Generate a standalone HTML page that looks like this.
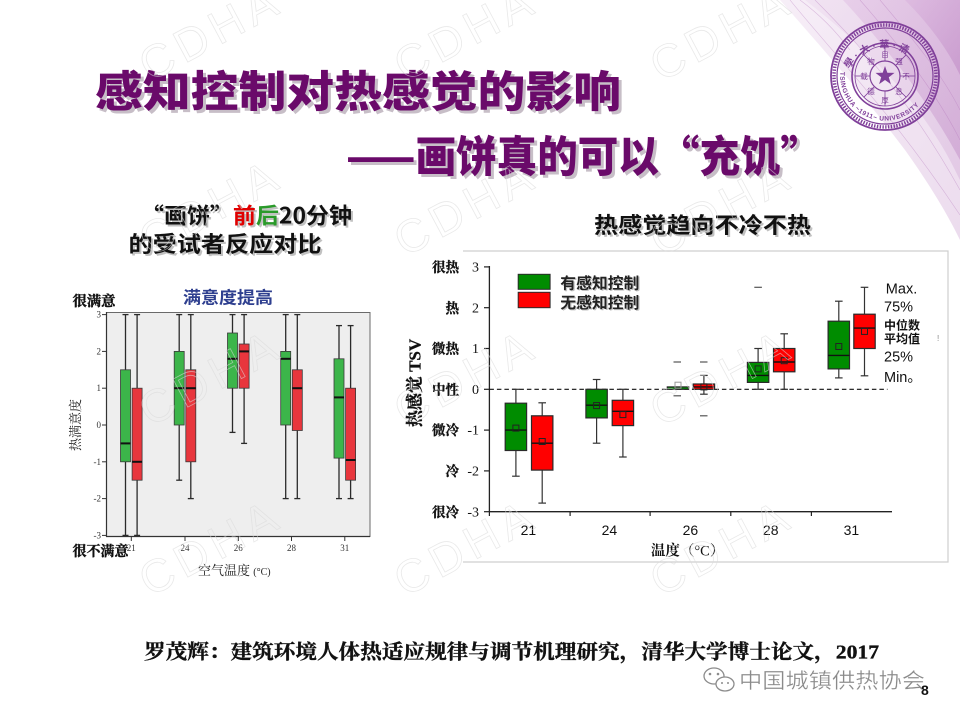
<!DOCTYPE html>
<html><head><meta charset="utf-8"><style>
html,body{margin:0;padding:0;background:#fff;width:960px;height:720px;overflow:hidden;}
svg{display:block;}
.cjk{font-family:"Liberation Sans","Noto Sans CJK SC",sans-serif;}
.cjq{font-family:"Noto Sans CJK SC","Liberation Sans",sans-serif;}
.ser{font-family:"Liberation Serif","Noto Serif CJK SC",serif;}
</style></head><body>
<svg width="960" height="720" viewBox="0 0 960 720" xmlns="http://www.w3.org/2000/svg">
<defs>
<linearGradient id="rib1" x1="0" y1="0" x2="1" y2="1">
<stop offset="0" stop-color="#e3c6e5"/><stop offset="1" stop-color="#c08ac6"/></linearGradient>
<linearGradient id="rib2" x1="0" y1="0" x2="1" y2="1">
<stop offset="0" stop-color="#d3a2d7"/><stop offset="1" stop-color="#a860b0"/></linearGradient>
</defs>
<rect width="960" height="720" fill="#fff"/>

<!-- ribbon decoration -->
<path d="M780,0 C815,40 860,90 905,150 C930,185 948,215 960,240 L960,0 Z" fill="url(#rib1)" opacity="0.3"/>
<path d="M805,0 C850,35 900,80 935,135 C948,155 955,170 960,180 L960,0 Z" fill="url(#rib1)" opacity="0.25"/>
<path d="M843,0 C880,40 925,95 960,160 L960,0 Z" fill="url(#rib2)" opacity="0.28"/>
<path d="M905,0 C930,25 948,50 960,75 L960,0 Z" fill="url(#rib2)" opacity="0.3"/>
<g fill="none" stroke="#b070b8" stroke-width="0.6" opacity="0.4">
<path d="M790,0 C830,50 890,110 960,215"/>
<path d="M815,0 C860,45 910,100 960,190"/>
<path d="M860,0 C895,40 935,90 960,140"/>
<path d="M880,0 C905,30 940,70 960,110"/>
<path d="M800,0 C820,15 835,30 850,50"/>
</g>

<!-- Tsinghua logo -->
<g transform="translate(885,76)" stroke="#80409a" fill="none">
<circle r="54" stroke-width="1.8"/>
<circle r="51" stroke-width="3.5" stroke-dasharray="1.4 1.4"/>
<circle r="48" stroke-width="1.2"/>
<circle r="33" stroke-width="1.6"/>
<circle r="30" stroke-width="0.8"/>
<circle r="15" stroke-width="1.2"/>
<g stroke-width="0.8">
<line x1="0" y1="-15" x2="0" y2="-30"/><line x1="0" y1="15" x2="0" y2="30"/>
<line x1="-15" y1="0" x2="-30" y2="0"/><line x1="15" y1="0" x2="30" y2="0"/>
<line x1="10.6" y1="-10.6" x2="21.2" y2="-21.2"/><line x1="-10.6" y1="10.6" x2="-21.2" y2="21.2"/>
<line x1="-10.6" y1="-10.6" x2="-21.2" y2="-21.2"/><line x1="10.6" y1="10.6" x2="21.2" y2="21.2"/>
</g>
<polygon points="0,-10 2.35,-3.24 9.51,-3.09 3.8,1.24 5.88,8.09 0,4 -5.88,8.09 -3.8,1.24 -9.51,-3.09 -2.35,-3.24" fill="#80409a" stroke="none"/>
<path id="topArc" d="M-40,6 A40.5 40.5 0 0 1 40,6" stroke="none"/>
<path id="botArc" d="M-38,-8 A38.8 38.8 0 1 0 38,-8" stroke="none"/>
<g stroke="none" fill="#80409a">
<text class="cjk" font-size="10" font-weight="bold"><textPath href="#topArc" startOffset="12%">學 · 大 · 華 · 清</textPath></text>
<text font-family="Liberation Sans" font-size="6.5" font-weight="bold" dy="6"><textPath href="#botArc" startOffset="3%">TSINGHUA ~1911~ UNIVERSITY</textPath></text>
<g class="cjk" font-size="7.5" text-anchor="middle">
<text x="0" y="-19">自</text><text x="14" y="-12">强</text><text x="21" y="3">不</text><text x="14" y="18">息</text>
<text x="0" y="27">厚</text><text x="-14" y="18">德</text><text x="-21" y="3">载</text><text x="-14" y="-12">物</text>
</g></g>
</g>

<!-- Title -->
<g class="cjq" font-weight="900" font-size="43">
<text x="98" y="110" fill="#9a8a9a" opacity="0.55" textLength="526" lengthAdjust="spacingAndGlyphs">感知控制对热感觉的影响</text>
<text x="95" y="107" fill="#6a0a6a" textLength="526" lengthAdjust="spacingAndGlyphs">感知控制对热感觉的影响</text>
<text x="349" y="175" fill="#9a8a9a" opacity="0.55" textLength="475" lengthAdjust="spacingAndGlyphs">——画饼真的可以“充饥”</text>
<text x="346" y="172" fill="#6a0a6a" textLength="475" lengthAdjust="spacingAndGlyphs">——画饼真的可以“充饥”</text>
</g>

<!-- sub headings -->
<g class="cjq" font-weight="bold" font-size="22">
<text x="143" y="225.5" fill="#999" opacity="0.6" textLength="211" lengthAdjust="spacingAndGlyphs">“画饼”前后20分钟</text>
<text x="141" y="223.5" fill="#111" textLength="211" lengthAdjust="spacingAndGlyphs">“画饼”<tspan fill="#e00000">前</tspan><tspan fill="#2a9a2a">后</tspan>20分钟</text>
<text x="130.5" y="254" fill="#999" opacity="0.6" textLength="193" lengthAdjust="spacingAndGlyphs">的受试者反应对比</text>
<text x="128.5" y="252" fill="#111" textLength="193" lengthAdjust="spacingAndGlyphs">的受试者反应对比</text>
<text x="596" y="235" fill="#999" opacity="0.6" textLength="217" lengthAdjust="spacingAndGlyphs">热感觉趋向不冷不热</text>
<text x="594" y="233" fill="#111" textLength="217" lengthAdjust="spacingAndGlyphs">热感觉趋向不冷不热</text>
</g>

<!-- LEFT CHART -->
<g>
<rect x="106.5" y="312.5" width="263.5" height="224" fill="#eeeeee" stroke="#6a6a6a" stroke-width="1"/>
<line x1="106.5" y1="312" x2="106.5" y2="537" stroke="#333" stroke-width="1.2"/>
<line x1="106" y1="536.5" x2="370" y2="536.5" stroke="#333" stroke-width="1.2"/>
<g stroke="#333" stroke-width="1">
<line x1="102" y1="314.6" x2="106.5" y2="314.6"/><line x1="102" y1="351.4" x2="106.5" y2="351.4"/>
<line x1="102" y1="388.2" x2="106.5" y2="388.2"/><line x1="102" y1="425" x2="106.5" y2="425"/>
<line x1="102" y1="461.8" x2="106.5" y2="461.8"/><line x1="102" y1="498.6" x2="106.5" y2="498.6"/>
<line x1="102" y1="535.4" x2="106.5" y2="535.4"/>
<line x1="131.3" y1="536.5" x2="131.3" y2="541"/><line x1="185" y1="536.5" x2="185" y2="541"/>
<line x1="238.3" y1="536.5" x2="238.3" y2="541"/><line x1="291.5" y1="536.5" x2="291.5" y2="541"/>
<line x1="344.8" y1="536.5" x2="344.8" y2="541"/>
</g>
<g font-family="Liberation Serif" font-size="9" fill="#333" text-anchor="end">
<text x="101" y="317.6">3</text><text x="101" y="354.4">2</text><text x="101" y="391.2">1</text>
<text x="101" y="428">0</text><text x="101" y="464.8">-1</text><text x="101" y="501.6">-2</text><text x="101" y="538.4">-3</text>
</g>
<g font-family="Liberation Serif" font-size="9" fill="#333" text-anchor="middle">
<text x="131.3" y="551">21</text><text x="185" y="551">24</text><text x="238.3" y="551">26</text>
<text x="291.5" y="551">28</text><text x="344.8" y="551">31</text>
</g>
<g stroke="#2a2a2a" stroke-width="1.3">
<line x1="125.5" y1="314.6" x2="125.5" y2="535.4"/><line x1="122.5" y1="314.6" x2="128.5" y2="314.6"/><line x1="122.5" y1="535.4" x2="128.5" y2="535.4"/>
<line x1="137.1" y1="314.6" x2="137.1" y2="535.4"/><line x1="134.1" y1="314.6" x2="140.1" y2="314.6"/><line x1="134.1" y1="535.4" x2="140.1" y2="535.4"/>
<line x1="179.2" y1="314.6" x2="179.2" y2="480.2"/><line x1="176.2" y1="314.6" x2="182.2" y2="314.6"/><line x1="176.2" y1="480.2" x2="182.2" y2="480.2"/>
<line x1="190.8" y1="314.6" x2="190.8" y2="498.6"/><line x1="187.8" y1="314.6" x2="193.8" y2="314.6"/><line x1="187.8" y1="498.6" x2="193.8" y2="498.6"/>
<line x1="232.5" y1="314.6" x2="232.5" y2="432.4"/><line x1="229.5" y1="314.6" x2="235.5" y2="314.6"/><line x1="229.5" y1="432.4" x2="235.5" y2="432.4"/>
<line x1="244.1" y1="314.6" x2="244.1" y2="443.4"/><line x1="241.1" y1="314.6" x2="247.1" y2="314.6"/><line x1="241.1" y1="443.4" x2="247.1" y2="443.4"/>
<line x1="285.7" y1="314.6" x2="285.7" y2="498.6"/><line x1="282.7" y1="314.6" x2="288.7" y2="314.6"/><line x1="282.7" y1="498.6" x2="288.7" y2="498.6"/>
<line x1="297.3" y1="314.6" x2="297.3" y2="498.6"/><line x1="294.3" y1="314.6" x2="300.3" y2="314.6"/><line x1="294.3" y1="498.6" x2="300.3" y2="498.6"/>
<line x1="339" y1="325.6" x2="339" y2="498.6"/><line x1="336" y1="325.6" x2="342" y2="325.6"/><line x1="336" y1="498.6" x2="342" y2="498.6"/>
<line x1="350.6" y1="325.6" x2="350.6" y2="498.6"/><line x1="347.6" y1="325.6" x2="353.6" y2="325.6"/><line x1="347.6" y1="498.6" x2="353.6" y2="498.6"/>
</g>
<g stroke="#3a3a3a" stroke-width="0.8">
<rect x="120.5" y="369.8" width="10" height="92" fill="#3cb54a"/>
<rect x="132.1" y="388.2" width="10" height="92" fill="#e8363d"/>
<rect x="174.2" y="351.4" width="10" height="73.6" fill="#3cb54a"/>
<rect x="185.8" y="369.8" width="10" height="92" fill="#e8363d"/>
<rect x="227.5" y="333" width="10" height="55.2" fill="#3cb54a"/>
<rect x="239.1" y="344" width="10" height="44.2" fill="#e8363d"/>
<rect x="280.7" y="351.4" width="10" height="73.6" fill="#3cb54a"/>
<rect x="292.3" y="369.8" width="10" height="60.7" fill="#e8363d"/>
<rect x="334" y="358.8" width="10" height="99.3" fill="#3cb54a"/>
<rect x="345.6" y="388.2" width="10" height="92" fill="#e8363d"/>
</g>
<g stroke="#111" stroke-width="2">
<line x1="120.5" y1="443.4" x2="130.5" y2="443.4"/>
<line x1="132.1" y1="461.8" x2="142.1" y2="461.8"/>
<line x1="174.2" y1="388.2" x2="184.2" y2="388.2"/>
<line x1="185.8" y1="388.2" x2="195.8" y2="388.2"/>
<line x1="227.5" y1="358.8" x2="237.5" y2="358.8"/>
<line x1="239.1" y1="351.4" x2="249.1" y2="351.4"/>
<line x1="280.7" y1="358.8" x2="290.7" y2="358.8"/>
<line x1="292.3" y1="388.2" x2="302.3" y2="388.2"/>
<line x1="334" y1="397.4" x2="344" y2="397.4"/>
<line x1="345.6" y1="460" x2="355.6" y2="460"/>
</g>
<text x="228" y="303.5" class="cjk" font-size="17" font-weight="bold" fill="#2e3f8f" text-anchor="middle" textLength="90" lengthAdjust="spacingAndGlyphs">满意度提高</text>
<g class="ser" font-weight="bold" font-size="14" fill="#111" stroke="#111" stroke-width="0.4">
<text x="72.5" y="306" textLength="43" lengthAdjust="spacingAndGlyphs">很满意</text>
<text x="72.5" y="556" textLength="56" lengthAdjust="spacingAndGlyphs">很不满意</text>
</g>
<text transform="translate(80,425) rotate(-90)" class="ser" font-size="13" fill="#222" text-anchor="middle">热满意度</text>
<text x="198" y="575" class="ser" font-size="13" fill="#222">空气温度 <tspan font-size="10">(°C)</tspan></text>
</g>

<!-- RIGHT CHART -->
<g>
<g stroke="#cfcfcf" stroke-width="1.2" fill="none">
<polyline points="463,251 948,251 948,562 463,562"/>
</g>
<line x1="489.4" y1="266" x2="489.4" y2="512" stroke="#222" stroke-width="1.3"/>
<line x1="489" y1="511.7" x2="892" y2="511.7" stroke="#222" stroke-width="1.3"/>
<g stroke="#222" stroke-width="1.2">
<line x1="484" y1="266.9" x2="489.4" y2="266.9"/><line x1="484" y1="307.7" x2="489.4" y2="307.7"/>
<line x1="484" y1="348.5" x2="489.4" y2="348.5"/><line x1="484" y1="389.3" x2="489.4" y2="389.3"/>
<line x1="484" y1="430.1" x2="489.4" y2="430.1"/><line x1="484" y1="470.9" x2="489.4" y2="470.9"/>
<line x1="484" y1="511.7" x2="489.4" y2="511.7"/>
<line x1="489.4" y1="511.7" x2="489.4" y2="516"/><line x1="570.1" y1="511.7" x2="570.1" y2="516"/>
<line x1="650.1" y1="511.7" x2="650.1" y2="516"/><line x1="730.8" y1="511.7" x2="730.8" y2="516"/>
<line x1="811.4" y1="511.7" x2="811.4" y2="516"/>
</g>
<g font-family="Liberation Serif" font-size="14" fill="#111" text-anchor="end">
<text x="479" y="271.5">3</text><text x="479" y="312.3">2</text><text x="479" y="353.1">1</text>
<text x="479" y="393.9">0</text><text x="479" y="434.7">-1</text><text x="479" y="475.5">-2</text><text x="479" y="516.3">-3</text>
</g>
<g class="ser" font-size="13.5" font-weight="bold" fill="#111" stroke="#111" stroke-width="0.35" text-anchor="end">
<text x="459" y="272">很热</text><text x="459" y="312.8">热</text><text x="459" y="353.6">微热</text>
<text x="459" y="394.4">中性</text><text x="459" y="435.2">微冷</text><text x="459" y="476">冷</text><text x="459" y="516.8">很冷</text>
</g>
<g font-family="Liberation Sans" font-size="14" fill="#111" text-anchor="middle">
<text x="528.4" y="535">21</text><text x="609.4" y="535">24</text><text x="690.4" y="535">26</text>
<text x="770.7" y="535">28</text><text x="851.4" y="535">31</text>
</g>
<text x="687.6" y="555.5" text-anchor="middle" class="ser" font-size="14.5" font-weight="bold" fill="#111">温度<tspan font-weight="normal">（°C）</tspan></text>
<text transform="translate(420.5,383) rotate(-90)" text-anchor="middle" class="ser" font-size="17" font-weight="bold" fill="#111" stroke="#111" stroke-width="0.3">热感觉 TSV</text>

<line x1="489.4" y1="389.3" x2="887.5" y2="389.3" stroke="#111" stroke-width="1.2" stroke-dasharray="4.5 3"/>

<g stroke="#333" stroke-width="1.2">
<line x1="515.9" y1="389.3" x2="515.9" y2="476.2"/><line x1="512.1" y1="389.3" x2="519.7" y2="389.3"/><line x1="512.1" y1="476.2" x2="519.7" y2="476.2"/>
<line x1="542.2" y1="402.8" x2="542.2" y2="503.1"/><line x1="538.4" y1="402.8" x2="546" y2="402.8"/><line x1="538.4" y1="503.1" x2="546" y2="503.1"/>
<line x1="596.6" y1="379.5" x2="596.6" y2="443.2"/><line x1="592.8" y1="379.5" x2="600.4" y2="379.5"/><line x1="592.8" y1="443.2" x2="600.4" y2="443.2"/>
<line x1="622.9" y1="389.3" x2="622.9" y2="457"/><line x1="619.1" y1="389.3" x2="626.7" y2="389.3"/><line x1="619.1" y1="457" x2="626.7" y2="457"/>
<line x1="703.9" y1="375.4" x2="703.9" y2="394.2"/><line x1="700.1" y1="375.4" x2="707.7" y2="375.4"/><line x1="700.1" y1="394.2" x2="707.7" y2="394.2"/>
<line x1="758.1" y1="348.5" x2="758.1" y2="389.3"/><line x1="754.3" y1="348.5" x2="761.9" y2="348.5"/><line x1="754.3" y1="389.3" x2="761.9" y2="389.3"/>
<line x1="784.2" y1="333.8" x2="784.2" y2="389.3"/><line x1="780.4" y1="333.8" x2="788" y2="333.8"/><line x1="780.4" y1="389.3" x2="788" y2="389.3"/>
<line x1="838.8" y1="301.2" x2="838.8" y2="377.9"/><line x1="835" y1="301.2" x2="842.6" y2="301.2"/><line x1="835" y1="377.9" x2="842.6" y2="377.9"/>
<line x1="864.5" y1="287.3" x2="864.5" y2="375.8"/><line x1="860.7" y1="287.3" x2="868.3" y2="287.3"/><line x1="860.7" y1="375.8" x2="868.3" y2="375.8"/>
</g>
<g stroke="#555" stroke-width="1.2">
<line x1="673.5" y1="362" x2="681" y2="362"/><line x1="673.5" y1="395.8" x2="681" y2="395.8"/>
<line x1="700" y1="362" x2="707.5" y2="362"/><line x1="700" y1="415.8" x2="707.5" y2="415.8"/>
<line x1="754.3" y1="287.3" x2="761.9" y2="287.3"/>
</g>
<g stroke="#2a2a2a" stroke-width="1.2">
<rect x="505.2" y="403.2" width="21.4" height="47.3" fill="#008c00"/>
<rect x="531.5" y="415.8" width="21.4" height="54.3" fill="#ff0000"/>
<rect x="585.9" y="389.3" width="21.4" height="28.6" fill="#008c00"/>
<rect x="612.2" y="400.3" width="21.4" height="25.3" fill="#ff0000"/>
<rect x="667.3" y="386.9" width="21.4" height="2.4" fill="#008c00"/>
<rect x="693.2" y="384" width="21.4" height="5.3" fill="#ff0000"/>
<rect x="747.4" y="362.4" width="21.4" height="20" fill="#008c00"/>
<rect x="773.5" y="348.5" width="21.4" height="23.3" fill="#ff0000"/>
<rect x="828.1" y="321.2" width="21.4" height="47.7" fill="#008c00"/>
<rect x="853.8" y="314.2" width="21.4" height="34.3" fill="#ff0000"/>
</g>
<g stroke="#111" stroke-width="1.4">
<line x1="505.2" y1="430.1" x2="526.6" y2="430.1"/>
<line x1="531.5" y1="443.2" x2="552.9" y2="443.2"/>
<line x1="585.9" y1="405.2" x2="607.3" y2="405.2"/>
<line x1="612.2" y1="411.3" x2="633.6" y2="411.3"/>
<line x1="693.2" y1="386.9" x2="714.6" y2="386.9"/>
<line x1="747.4" y1="375.4" x2="768.8" y2="375.4"/>
<line x1="773.5" y1="362" x2="794.9" y2="362"/>
<line x1="828.1" y1="355.4" x2="849.5" y2="355.4"/>
<line x1="853.8" y1="328.1" x2="875.2" y2="328.1"/>
</g>
<g fill="none" stroke="#222" stroke-width="1">
<rect x="512.9" y="425.1" width="6" height="6"/>
<rect x="539.2" y="438.5" width="6" height="6"/>
<rect x="593.6" y="402.6" width="6" height="6"/>
<rect x="619.9" y="411.6" width="6" height="6"/>
<rect x="675" y="382.2" width="6" height="6" stroke="#999"/>
<rect x="700.9" y="383.9" width="6" height="6"/>
<rect x="755.1" y="365.9" width="6" height="6"/>
<rect x="781.2" y="357.7" width="6" height="6"/>
<rect x="835.8" y="343.5" width="6" height="6"/>
<rect x="861.5" y="328.4" width="6" height="6"/>
</g>
<rect x="518.2" y="274.3" width="31.9" height="15" fill="#008c00" stroke="#2a2a2a" stroke-width="1"/>
<rect x="518.2" y="292.3" width="31.9" height="15.4" fill="#ff0000" stroke="#2a2a2a" stroke-width="1"/>
<g class="cjk" font-size="15.5" font-weight="bold">
<text x="561.5" y="289.5" fill="#999" opacity="0.6" textLength="79" lengthAdjust="spacingAndGlyphs">有感知控制</text>
<text x="560.3" y="288.3" fill="#222" textLength="79" lengthAdjust="spacingAndGlyphs">有感知控制</text>
<text x="561.5" y="309" fill="#999" opacity="0.6" textLength="79" lengthAdjust="spacingAndGlyphs">无感知控制</text>
<text x="560.3" y="307.8" fill="#222" textLength="79" lengthAdjust="spacingAndGlyphs">无感知控制</text>
</g>
<g font-family="Liberation Sans" font-size="14.5" fill="#111">
<text x="885.8" y="293.5">Max.</text>
<text x="884" y="311.5">75%</text>
<text x="884" y="361.5">25%</text>
<text x="884" y="382">Min<tspan class="cjk">。</tspan></text>
</g>
<g class="cjk" font-size="12" font-weight="bold" fill="#111">
<text x="884" y="329.5">中位数</text>
<text x="884" y="343">平均值</text>
</g>
<text x="937" y="341" font-family="Liberation Sans" font-size="8" fill="#888">!</text>
</g>

<!-- citation -->
<text x="144" y="658.5" class="ser" font-size="20" font-weight="bold" fill="#111" stroke="#111" stroke-width="0.35" textLength="735" lengthAdjust="spacingAndGlyphs">罗茂辉：建筑环境人体热适应规律与调节机理研究，清华大学博士论文，2017</text>

<!-- footer watermark -->
<g fill="none" stroke="#8c8c8c" stroke-width="1.3">
<ellipse cx="714" cy="676" rx="10" ry="8"/>
<ellipse cx="725" cy="684" rx="9" ry="7" fill="#fff"/>
</g>
<g fill="#8c8c8c"><circle cx="710" cy="674" r="1.3"/><circle cx="718" cy="674" r="1.3"/><circle cx="722" cy="683" r="1"/><circle cx="728" cy="683" r="1"/></g>
<text x="739" y="688" class="cjk" font-size="21" fill="#8a8a8a" stroke="#fff" stroke-width="0.3" textLength="186" lengthAdjust="spacingAndGlyphs">中国城镇供热协会</text>
<text x="921" y="695" font-family="Liberation Sans" font-size="14" font-weight="bold" fill="#111">8</text>

<!-- CDHA watermark -->
<g font-family="Liberation Sans" font-size="46" fill="none" stroke="#dadada" stroke-width="0.8" opacity="0.6" text-anchor="middle" letter-spacing="6">
<text transform="translate(218,46) rotate(-28)">CDHA</text>
<text transform="translate(473,46) rotate(-28)">CDHA</text>
<text transform="translate(729,46) rotate(-28)">CDHA</text>
<text transform="translate(218,221) rotate(-28)">CDHA</text>
<text transform="translate(473,221) rotate(-28)">CDHA</text>
<text transform="translate(729,221) rotate(-28)">CDHA</text>
<text transform="translate(218,391) rotate(-28)">CDHA</text>
<text transform="translate(473,391) rotate(-28)">CDHA</text>
<text transform="translate(729,391) rotate(-28)">CDHA</text>
<text transform="translate(218,561) rotate(-28)">CDHA</text>
<text transform="translate(473,561) rotate(-28)">CDHA</text>
<text transform="translate(729,561) rotate(-28)">CDHA</text>
</g>
</svg>
</body></html>
